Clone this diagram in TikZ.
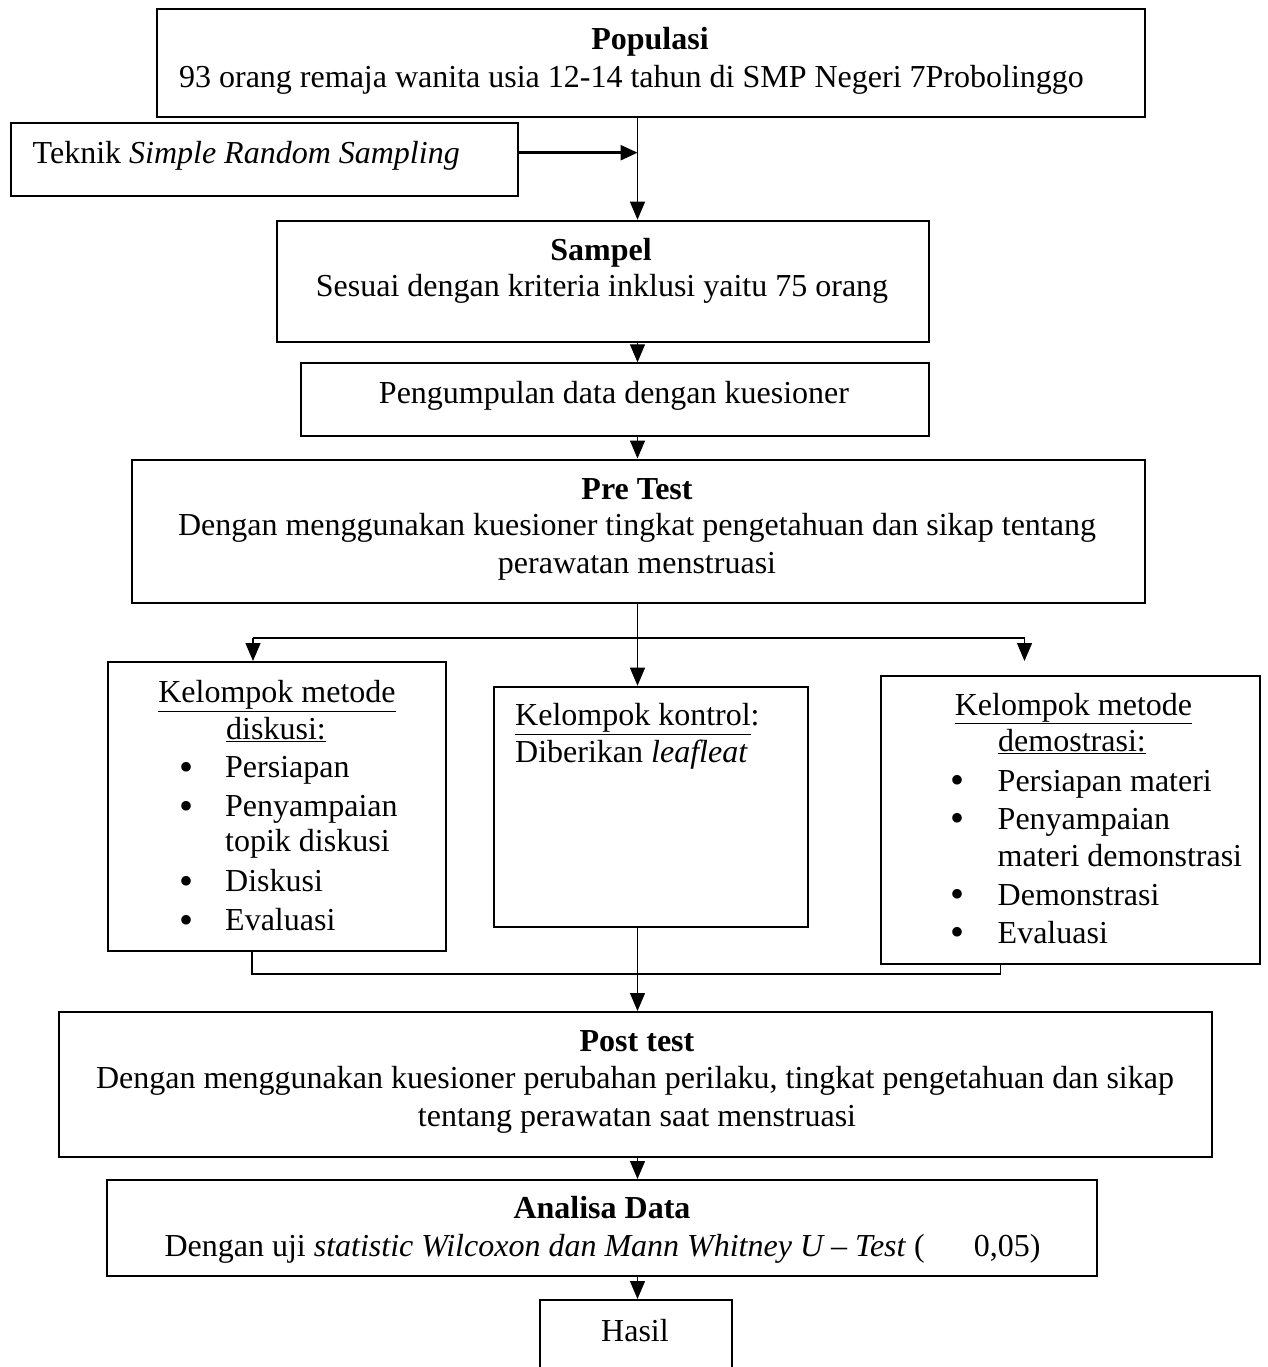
\documentclass[tikz,border=0pt]{standalone}
\usepackage{fontspec}
\setmainfont{Liberation Serif}
\usetikzlibrary{arrows.meta}
\begin{document}
\begin{tikzpicture}[x=1pt,y=-1pt,
  box/.style={draw, line width=2pt, inner sep=0pt},
  txt/.style={inner sep=0pt, font=\fontsize{32}{36.7}\selectfont},
  bul/.style={inner sep=0pt, font=\fontsize{40}{40}\selectfont},
  conn/.style={line width=1.3pt},
  arr/.style={conn, -{Triangle[length=18pt,width=15pt]}},
  tarr/.style={line width=2.6pt, -{Triangle[length=17pt,width=15pt]}}]
\useasboundingbox (0,0) rectangle (1267,1367);
% boxes
\node[box, minimum width=988pt, minimum height=108pt] (pop) at (651,63) {};
\node[box, minimum width=507.5pt, minimum height=73pt] (tek) at (264.25,159.5) {};
\node[box, minimum width=651.5pt, minimum height=121pt] (samp) at (602.75,281.2) {};
\node[box, minimum width=627.5pt, minimum height=72.4pt] (peng) at (614.75,399.5) {};
\node[box, minimum width=1013pt, minimum height=143.8pt] (pre) at (638.5,531.4) {};
\node[box, minimum width=338pt, minimum height=289pt] (disk) at (277,806.5) {};
\node[box, minimum width=314pt, minimum height=240.3pt] (kont) at (651,806.85) {};
\node[box, minimum width=379.4pt, minimum height=287.5pt] (demo) at (1070.3,819.75) {};
\node[box, minimum width=1152.4pt, minimum height=144.7pt] (post) at (635.5,1084.35) {};
\node[box, minimum width=989.5pt, minimum height=96pt] (anal) at (601.75,1228) {};
\node[box, minimum width=192pt, minimum height=100pt] (has) at (636,1350) {};
% texts
\node[txt, anchor=base] (t1) at (650,50) {\textbf{Populasi}};
\node[txt, anchor=base] (t2) at (631.5,87.3) {93 orang remaja wanita usia 12-14 tahun di SMP Negeri 7Probolinggo};
\node[txt, anchor=base west] (t3) at (32.5,164) {Teknik \textit{Simple Random Sampling}};
\node[txt, anchor=base] (t4) at (601,260) {\textbf{Sampel}};
\node[txt, anchor=base] (t5) at (602,296.7) {Sesuai dengan kriteria inklusi yaitu 75 orang};
\node[txt, anchor=base] (t6) at (614,403) {Pengumpulan data dengan kuesioner};
\node[txt, anchor=base] (t7) at (637,499) {\textbf{Pre Test}};
\node[txt, anchor=base] (t8) at (637,535) {Dengan menggunakan kuesioner tingkat pengetahuan dan sikap tentang};
\node[txt, anchor=base] (t9) at (637,573) {perawatan menstruasi};
% left group
\node[txt, anchor=base] (l1) at (277,702.7) {\underline{Kelompok metode}};
\node[txt, anchor=base] (l2) at (276,739.3) {\underline{diskusi:}};
\node[bul, anchor=base] (lb1) at (186,780) {\textbullet};
\node[txt, anchor=base west] (li1) at (225,777.7) {Persiapan};
\node[bul, anchor=base] (lb2) at (186,819) {\textbullet};
\node[txt, anchor=base west] (li2) at (225,816.7) {Penyampaian};
\node[txt, anchor=base west] (li2b) at (225,851.7) {topik diskusi};
\node[bul, anchor=base] (lb3) at (186,894) {\textbullet};
\node[txt, anchor=base west] (li3) at (225,891.7) {Diskusi};
\node[bul, anchor=base] (lb4) at (186,933) {\textbullet};
\node[txt, anchor=base west] (li4) at (225,930.7) {Evaluasi};
% middle group
\node[txt, anchor=base west] (m1) at (515,725.7) {\underline{Kelompok kontrol}:};
\node[txt, anchor=base west] (m2) at (515,762.7) {Diberikan \textit{leafleat}};
% right group
\node[txt, anchor=base] (r1) at (1073.5,715) {\underline{Kelompok metode}};
\node[txt, anchor=base] (r2) at (1072,751.7) {\underline{demostrasi:}};
\node[bul, anchor=base] (rb1) at (957,793.3) {\textbullet};
\node[txt, anchor=base west] (ri1) at (997.5,791) {Persiapan materi};
\node[bul, anchor=base] (rb2) at (957,831.6) {\textbullet};
\node[txt, anchor=base west] (ri2) at (997.5,829.3) {Penyampaian};
\node[txt, anchor=base west] (ri2b) at (997.5,866.7) {materi demonstrasi};
\node[bul, anchor=base] (rb3) at (957,907.3) {\textbullet};
\node[txt, anchor=base west] (ri3) at (997.5,905) {Demonstrasi};
\node[bul, anchor=base] (rb4) at (957,945.6) {\textbullet};
\node[txt, anchor=base west] (ri4) at (997.5,943.3) {Evaluasi};
% post test
\node[txt, anchor=base] (p1) at (637,1051.7) {\textbf{Post test}};
\node[txt, anchor=base] (p2) at (635,1088.3) {Dengan menggunakan kuesioner perubahan perilaku, tingkat pengetahuan dan sikap};
\node[txt, anchor=base] (p3) at (637,1126.7) {tentang perawatan saat menstruasi};
% analisa
\node[txt, anchor=base] (a1) at (602,1218.3) {\textbf{Analisa Data}};
\node[txt, anchor=base] (a2) at (602.5,1256.7) {Dengan uji \textit{statistic Wilcoxon dan Mann Whitney U – Test} (\hspace{49pt}0,05)};
\node[txt, anchor=base] (h1) at (635,1341.7) {Hasil};
% coordinates
\coordinate (c) at (637.5,0);
\coordinate (ta) at (637.5,152.7);
\coordinate (bl) at (253,638);
\coordinate (brr) at (1024.5,638);
\coordinate (dtip) at (1024.5,661);
\coordinate (ml) at (252,974);
\coordinate (mr) at (1000.8,974);
% connectors
\draw[arr] (pop.south -| c) -- (samp.north -| c);
\draw[tarr] (tek.east |- ta) -- (ta);
\draw[arr] (samp.south -| c) -- (peng.north -| c);
\draw[arr] (peng.south -| c) -- (pre.north -| c);
\draw[arr] (pre.south -| c) -- (kont.north -| c);
\draw[conn] (bl) -- (brr);
\draw[arr] (bl) -- (disk.north -| bl);
\draw[arr] (brr) -- (dtip);
\draw[conn] (disk.south -| ml) -- (ml) -- (mr) -- (demo.south -| mr);
\draw[arr] (kont.south -| c) -- (post.north -| c);
\draw[arr] (post.south -| c) -- (anal.north -| c);
\draw[arr] (anal.south -| c) -- (has.north -| c);
\end{tikzpicture}
\end{document}
